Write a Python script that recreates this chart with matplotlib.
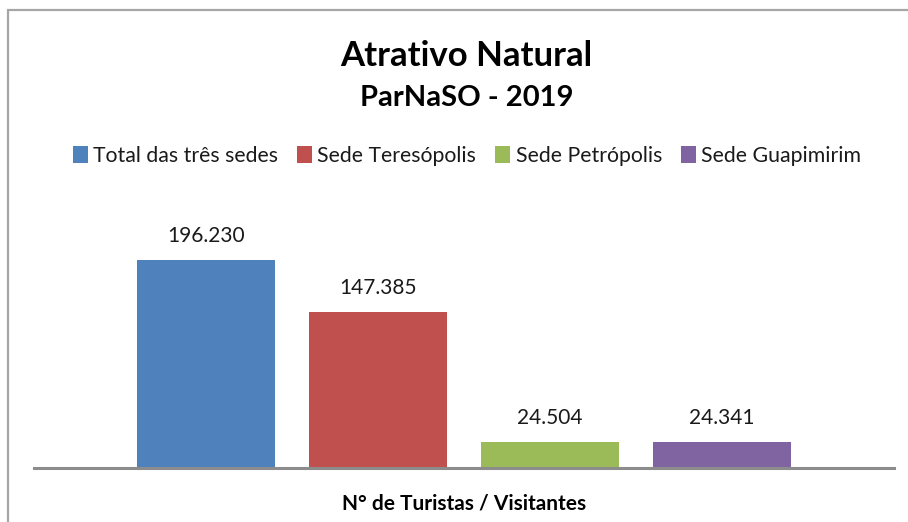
import matplotlib
matplotlib.use("Agg")
import matplotlib.pyplot as plt
from matplotlib.patches import Rectangle

# ---- data ----
series = ["Total das três sedes", "Sede Teresópolis", "Sede Petrópolis", "Sede Guapimirim"]
values = [196230, 147385, 24504, 24341]
value_labels = ["196.230", "147.385", "24.504", "24.341"]
colors = ["#4F81BD", "#C0504D", "#9BBB59", "#8064A2"]
title1 = "Atrativo Natural"
title2 = "ParNaSO - 2019"
xlabel = "N° de Turistas / Visitantes"

plt.rcParams["font.family"] = ["Lato", "DejaVu Sans"]

W, H = 908, 522
fig = plt.figure(figsize=(W / 100, H / 100), dpi=100)
fig.patch.set_facecolor("white")

def fx(px):
    return px / W

def fy(py):
    return 1 - py / H

# chart border
fig.patches.append(Rectangle((fx(8), -0.05), 1.2, fy(10) + 0.05, transform=fig.transFigure,
                             fill=False, edgecolor="#A6A6A6", linewidth=1.6, zorder=0))

ax = fig.add_axes([fx(34), fy(468), fx(894) - fx(34), fy(203) - fy(468)])
ax.set_facecolor("none")
xs = list(range(len(values)))
bars = ax.bar(xs, values, width=0.80, color=colors, zorder=2)
ax.set_xlim(-1, 4)
ax.set_ylim(0, 250000)
for s in ["top", "right", "left"]:
    ax.spines[s].set_visible(False)
ax.spines["bottom"].set_color("#8C8C8C")
ax.spines["bottom"].set_linewidth(2.2)
ax.spines["bottom"].set_zorder(3)
ax.set_xticks([])
ax.set_yticks([])

ax.bar_label(bars, labels=value_labels, padding=10, fontsize=15, color="#1a1a1a")

fig.text(fx(466), fy(66), title1, ha="center", va="baseline",
         fontsize=25, fontweight="bold", color="black")
fig.text(fx(466.5), fy(106), title2, ha="center", va="baseline",
         fontsize=21, fontweight="bold", color="black")
fig.text(fx(464), fy(509), xlabel, ha="center", va="baseline",
         fontsize=15, fontweight="bold", color="black")

handles = [Rectangle((0, 0), 1, 1, facecolor=c, edgecolor="none") for c in colors]
leg = fig.legend(handles, series, loc="center", bbox_to_anchor=(fx(467), fy(156)), ncol=4,
                 frameon=False, fontsize=15.3, handlelength=0.7, handleheight=0.8,
                 handletextpad=0.25, columnspacing=0.9, borderaxespad=0, borderpad=0)
for t in leg.get_texts():
    t.set_color("#1a1a1a")

fig.savefig("out.png", dpi=100, facecolor="white")
